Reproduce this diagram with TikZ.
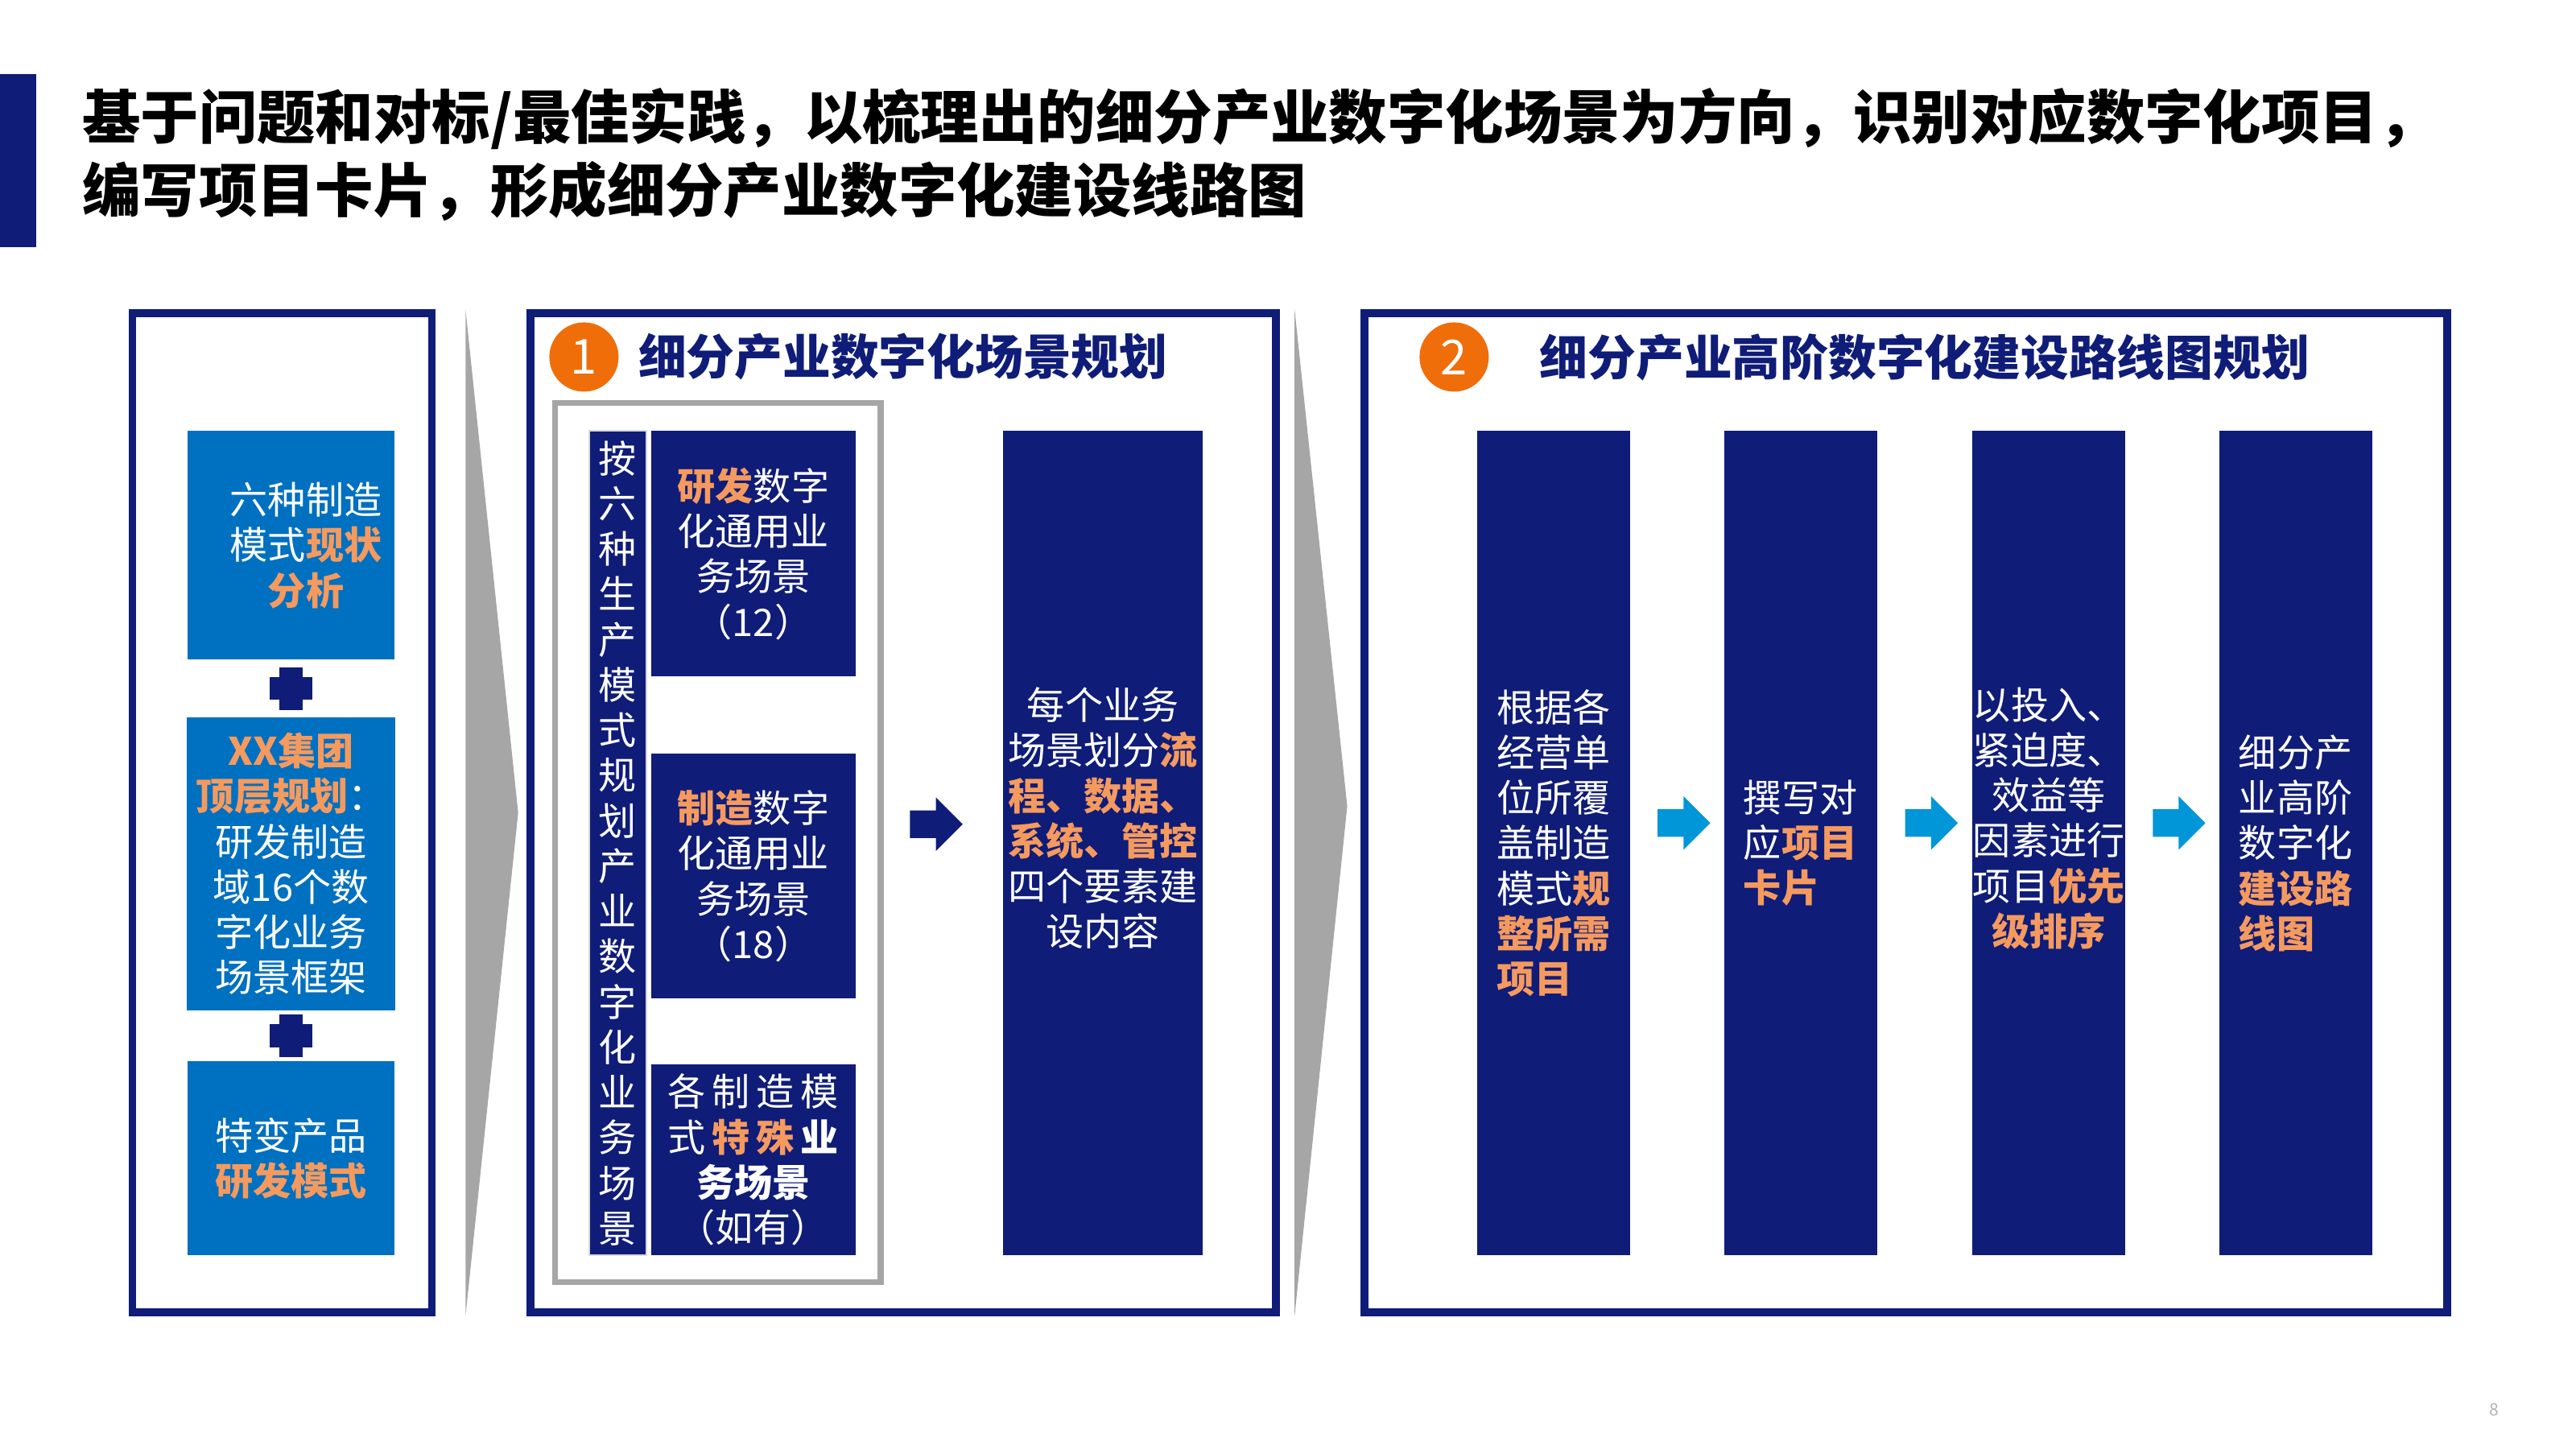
\documentclass[tikz,border=0pt]{standalone}
\usepackage{fontspec}
\setmainfont{Noto Sans CJK SC}
\usetikzlibrary{shapes.arrows,calc}
\definecolor{navy}{RGB}{15,28,120}
\definecolor{midblue}{RGB}{0,112,192}
\definecolor{skyblue}{RGB}{0,150,215}
\definecolor{badgeorange}{RGB}{240,110,10}
\definecolor{hlorange}{RGB}{245,154,95}
\definecolor{chevgray}{RGB}{166,166,166}
\newcommand{\orng}[1]{\textcolor{hlorange}{\textbf{#1}}}

\begin{document}
\begin{tikzpicture}[
x=0.020434cm, y=-0.020434cm,
panel/.style={
  draw=navy,
  line width=2.8pt,
  minimum height=12.41cm
  },
body/.style={font=\fontsize{13.4pt}{16pt}\selectfont},
bluebox/.style={fill=midblue, text=white, align=center, body, minimum width=2.575cm},
navybox/.style={fill=navy, text=white, align=center, body},
badge/.style={circle, fill=badgeorange, text=white, minimum size=0.86cm, inner sep=0pt,
  font=\fontsize{17pt}{17pt}\selectfont},
ptitle/.style={anchor=west, text=navy, font=\fontsize{17pt}{20pt}\selectfont\bfseries},
blockarrow/.style={single arrow, minimum height=0.654cm, text height=0.165cm, text depth=0.165cm,
  text width=0pt, single arrow head extend=0.16cm, inner sep=0pt}
]
\useasboundingbox (0,0) rectangle (1566,881);

% title
\fill[navy] (0,45) rectangle (22,150);
\node[anchor=west, align=left, font=\fontsize{20.6pt}{25.8pt}\selectfont\bfseries] (title) at (44,94)
  {基于问题和对标/最佳实践，以梳理出的细分产业数字化场景为方向，识别对应数字化项目，\\编写项目卡片，形成细分产业数字化建设线路图};

% panels
\node[panel, minimum width=3.72cm] (pL) at (171.5,494) {};
\node[panel, minimum width=9.26cm] (p1) at (549,494) {};
\node[panel, minimum width=13.45cm] (p2) at (1158.5,494) {};
\fill[chevgray] (283,188) -- (315,494) -- (283,800) -- cycle;
\fill[chevgray] (787,188) -- (819,490) -- (787,800) -- cycle;

% left panel
\node[bluebox, minimum height=2.84cm,
  label={[body, text=white, align=center, xshift=0.184cm]center:六种制造\\模式\orng{现状}\\\orng{分析}}]
  (b1) at (177,331.5) {};
\node[bluebox, minimum height=3.637cm] (b2) at (177,525)
  {\orng{XX集团}\\\orng{顶层规划}：\\研发制造\\域16个数\\字化业务\\场景框架};
\node[bluebox, minimum height=2.411cm] (b3) at (177,704) {特变产品\\\orng{研发模式}};
\foreach \a/\b in {b1/b2,b2/b3}{
  \fill[navy] ($(\a.south)!.5!(\b.north)$) ++(-13,-7) rectangle ++(26,14);
  \fill[navy] ($(\a.south)!.5!(\b.north)$) ++(-7,-13) rectangle ++(14,26);
}

% panel 1
\node[badge] (n1) at (355,217) {1};
\node[ptitle] (t1) at (382,217) {细分产业数字化场景规划};
\node[draw=chevgray, line width=2pt, minimum width=4.04cm, minimum height=10.92cm] (grp) at (436.5,512) {};
\node[navybox, draw=gray!30, line width=0.6pt, inner sep=0pt, minimum width=0.715cm, minimum height=10.237cm]
  (strip) at (375.5,512.5)
  {按\\六\\种\\生\\产\\模\\式\\规\\划\\产\\业\\数\\字\\化\\业\\务\\场\\景};
\node[navybox, minimum width=2.534cm, minimum height=3.045cm] (ba) at (458,336.5)
  {\orng{研发}数字\\化通用业\\务场景\\（12）};
\node[navybox, minimum width=2.534cm, minimum height=3.045cm] (bb) at (458,532.5)
  {\orng{制造}数字\\化通用业\\务场景\\（18）};
\node[navybox, minimum width=2.534cm, minimum height=2.37cm] (bc) at (458,705)
  {\makebox[2.12cm][s]{各\hfill 制\hfill 造\hfill 模}\\
   \makebox[2.12cm][s]{式\hfill\orng{特}\hfill\orng{殊}\hfill\textbf{业}}\\
   \textbf{务场景}\\（如有）};
\node[navybox, minimum width=2.473cm, minimum height=10.237cm,
  label={[body, text=white, align=center, yshift=0.31cm]center:每个业务\\场景划分\orng{流}\\\orng{程、数据、}\\\orng{系统、管控}\\四个要素建\\设内容}]
  (big) at (670.5,512.5) {};
\node[blockarrow, fill=navy] (ar0) at (565,501) {};

% panel 2
\node[badge] (n2) at (884,217) {2};
\node[ptitle] (t2) at (930,217) {细分产业高阶数字化建设路线图规划};
\node[navybox, minimum width=1.9cm, minimum height=10.237cm, align=left] (c1) at (944.5,512.5)
  {根据各\\经营单\\位所覆\\盖制造\\模式\orng{规}\\\orng{整所需}\\\orng{项目}};
\node[navybox, minimum width=1.9cm, minimum height=10.237cm, align=left] (c2) at (1094.5,512.5)
  {撰写对\\应\orng{项目}\\\orng{卡片}};
\node[navybox, minimum width=1.9cm, minimum height=10.237cm,
  label={[body, text=white, align=center, yshift=0.31cm]center:以投入、\\紧迫度、\\效益等\\因素进行\\项目\orng{优先}\\\orng{级排序}}]
  (c3) at (1245.5,512.5) {};
\node[navybox, minimum width=1.9cm, minimum height=10.237cm, align=left] (c4) at (1395.5,512.5)
  {细分产\\业高阶\\数字化\\\orng{建设路}\\\orng{线图}};
\foreach \a/\b in {c1/c2,c2/c3,c3/c4}
  \node[blockarrow, fill=skyblue, yshift=0.25cm] (ar\a) at ($(\a.east)!.5!(\b.west)$) {};

\node[text=gray!60, font=\fontsize{6pt}{6pt}\selectfont] (pg) at (1516,857) {8};
\end{tikzpicture}
\end{document}
